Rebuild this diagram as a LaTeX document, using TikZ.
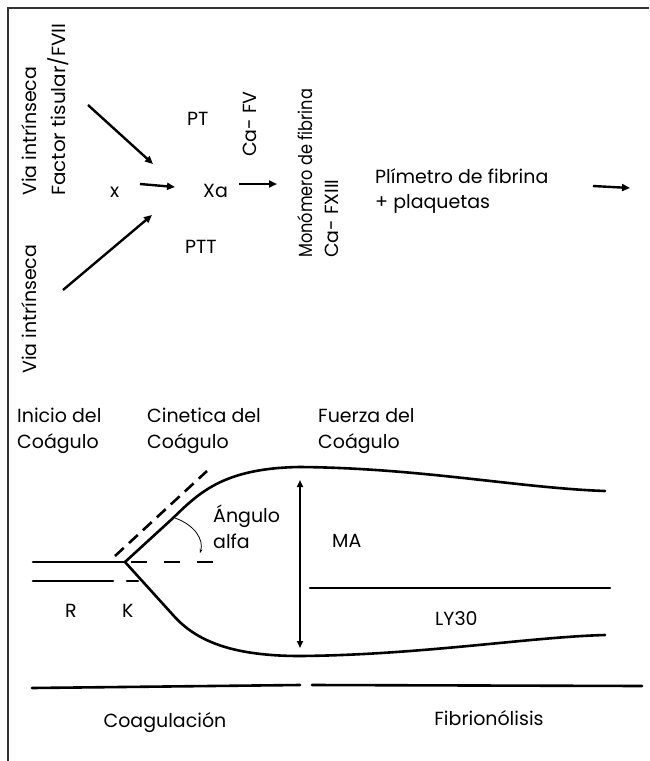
\documentclass[tikz,border=0pt]{standalone}
\usepackage{fontspec}
\setmainfont{Poppins}
\usetikzlibrary{arrows.meta}
\tikzset{
  txt/.style={font=\fontsize{19}{26}\selectfont, inner sep=0pt, text=black},
  ltxt/.style={txt, anchor=base west},
  vtxt/.style={txt, rotate=90, anchor=west},
  flow/.style={line width=2.4pt, -{Triangle[length=8pt,width=7pt]}},
  curve/.style={line width=2.6pt, line cap=round},
  dsh/.style={line width=2.6pt, dash pattern=on 12pt off 7pt},
  frame/.style={line width=1.4pt, draw=black!80}
}
\begin{document}
\begin{tikzpicture}[x=1pt,y=-1pt]
\useasboundingbox (0,0) rectangle (649,761);
\fill[white] (0,0) rectangle (649,761);
\draw[frame] (649,8) -- (8,8) -- (8,761);

% top pathway texts
\node[vtxt] (vi1) at (29,196) {Via intrínseca};
\node[vtxt] (ft) at (58,196) {\scalebox{1.05}[1]{Factor tisular/FVII}};
\node[vtxt] (vi2) at (29,374) {Via intrínseca};
\node[ltxt] (x) at (110,197) {x};
\node[ltxt] (pt) at (187,125) {PT};
\node[ltxt] (xa) at (203,197) {Xa};
\node[ltxt] (ptt) at (185,253) {PTT};
\node[vtxt] (cafv) at (250,157) {Ca- FV};
\node[vtxt] (mono) at (305,258) {\scalebox{0.85}[1]{Monómero de fibrina}};
\node[vtxt] (caf13) at (332,258) {Ca- FXIII};
\node[ltxt] (plim1) at (375,183) {Plímetro de fibrina};
\node[ltxt] (plim2) at (375,208) {+ plaquetas};

\coordinate (a1s) at (88,105);  \coordinate (a1e) at (153,164);
\coordinate (a2s) at (140,184); \coordinate (a2e) at (175,187);
\coordinate (a3s) at (63,290);  \coordinate (a3e) at (152,215);
\coordinate (a4s) at (239,184); \coordinate (a4e) at (277,184);
\coordinate (a5s) at (593,186); \coordinate (a5e) at (630,188);
\draw[flow] (a1s) -- (a1e);
\draw[flow] (a2s) -- (a2e);
\draw[flow] (a3s) -- (a3e);
\draw[flow] (a4s) -- (a4e);
\draw[flow] (a5s) -- (a5e);

% phase labels
\node[ltxt] (inicio1) at (17,422) {Inicio del};
\node[ltxt] (inicio2) at (17,448) {Coágulo};
\node[ltxt] (cinet1) at (147,422) {Cinetica del};
\node[ltxt] (cinet2) at (147,448) {Coágulo};
\node[ltxt] (fuerza1) at (318,422) {Fuerza del};
\node[ltxt] (fuerza2) at (318,448) {Coágulo};

% TEG trace
\coordinate (k) at (125,562);
\draw[curve] (33,562) -- (k);
\draw[curve] (k) -- (172,519) .. controls (198,494) and (222,468) .. (300,467)
  .. controls (420,468) and (520,488) .. (605,491);
\draw[curve] (k) -- (173,615) .. controls (195,640) and (230,656) .. (300,656)
  .. controls (420,655) and (530,637) .. (605,635);
\draw[curve] (33,581) -- (113,581);
\draw[curve] (127,581) -- (138,581);
\draw[dsh] (115,556) -- (207,471);
\draw[line width=2.6pt, dash pattern=on 16pt off 17pt] (131,562) -- (220,562);
\draw[line width=0.8pt, -{Stealth[length=4pt,width=3pt]}] (175,518) .. controls (195,525) and (204,540) .. (200,553);
\node[ltxt] (ang1) at (213,522) {Ángulo};
\node[ltxt] (ang2) at (213,548) {alfa};

\coordinate (mat) at (300,480); \coordinate (mab) at (300,648);
\draw[line width=2.2pt, {Triangle[length=7pt,width=6pt]}-{Triangle[length=7pt,width=6pt]}] (mat) -- (mab);
\node[ltxt] (ma) at (332,547) {MA};
\draw[curve] (310,588) -- (610,588);
\node[ltxt] (ly) at (435,625) {LY30};
\node[ltxt] (r) at (65,617) {R};
\node[ltxt] (kk) at (122,617) {K};

% bottom phases
\draw[curve] (32,688) -- (300,685);
\draw[curve] (312,685) -- (642,686);
\node[txt, anchor=base] (coag) at (165,727) {Coagulación};
\node[txt, anchor=base] (fib) at (489,725) {Fibrionólisis};
\end{tikzpicture}
\end{document}
